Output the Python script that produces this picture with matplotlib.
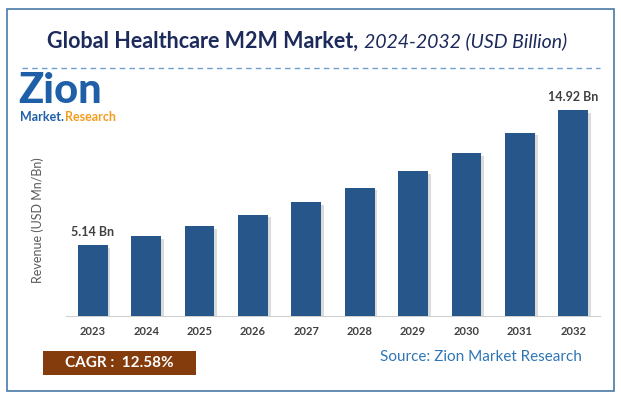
import matplotlib.pyplot as plt
import matplotlib.patheffects as pe
from matplotlib.patches import Rectangle

plt.rcParams['font.family'] = ['Lato', 'DejaVu Sans']

years = ['2023', '2024', '2025', '2026', '2027', '2028', '2029', '2030', '2031', '2032']
revenue = [5.14, 5.79, 6.52, 7.34, 8.26, 9.30, 10.47, 11.78, 13.27, 14.92]
first_label = '5.14 Bn'
last_label = '14.92 Bn'
cagr = 'CAGR :  12.58%'

W, H = 621, 397
fig = plt.figure(figsize=(W / 100, H / 100), dpi=100)


def fx(px):
    return px / W


def fy(py):
    return 1 - py / H


# outer frame
fig.patches.append(Rectangle((fx(7), fy(391)), fx(607), (391 - 9) / H, transform=fig.transFigure,
                             fill=False, edgecolor='#4a7aa8', linewidth=1.2))

# title (bold part + italic part)
title_color = '#1c2a5c'
t1 = fig.text(fx(47), fy(41), 'Global Healthcare M2M Market,', fontsize=15.5, fontweight='bold',
              color=title_color, va='center', ha='left')
fig.canvas.draw()
bb = t1.get_window_extent()
fig.text((bb.x1 + 6) / W, fy(41), '2024-2032 (USD Billion)', fontsize=14, fontstyle='italic',
         color=title_color, va='center', ha='left')

# dashed separator
fig.add_artist(plt.Line2D([fx(22), fx(600)], [fy(68), fy(68)], transform=fig.transFigure,
                          color='#6f9fcf', linewidth=1, linestyle=(0, (4, 3))))

# logo
fig.text(fx(18), fy(103), 'Zion', fontsize=30, fontweight='black', color='#1f5fa8',
         va='baseline', ha='left')
m1 = fig.text(fx(20), fy(117), 'Market.', fontsize=9, fontweight='bold', color='#1f5fa8',
              va='center', ha='left')
fig.canvas.draw()
mb = m1.get_window_extent()
fig.text((mb.x1 + 1) / W, fy(117), 'Research', fontsize=9, fontweight='bold', color='#f39c1f',
         va='center', ha='left')

# chart axes
ax = fig.add_axes([fx(66), fy(316), fx(600) - fx(66), (316 - 95) / H])
x = range(len(years))
bars = ax.bar(x, revenue, width=0.56, color='#27578a', zorder=3)
for b in bars:
    b.set_path_effects([pe.SimplePatchShadow(offset=(2, -2), shadow_rgbFace='#9a9a9a', alpha=0.35),
                        pe.Normal()])
ax.set_xlim(-0.5, 9.5)
ax.set_ylim(0, 16)
ax.set_xticks(list(x))
ax.set_xticklabels(years, fontsize=8, fontweight='bold', color='#404040')
ax.tick_params(axis='x', length=0, pad=7)
ax.set_yticks([])
for s in ['top', 'right', 'left']:
    ax.spines[s].set_visible(False)
ax.spines['bottom'].set_color('#d0d0d0')
ax.patch.set_alpha(0)

ax.text(0, revenue[0] + 0.5, first_label, ha='center', va='bottom', fontsize=9,
        fontweight='bold', color='#404040')
ax.text(9, revenue[-1] + 0.5, last_label, ha='center', va='bottom', fontsize=9,
        fontweight='bold', color='#404040')

fig.text(fx(38), fy(220), 'Revenue (USD Mn/Bn)', rotation=90, fontsize=9, color='#595959',
         va='center', ha='center')

# CAGR box
fig.patches.append(Rectangle((fx(43), fy(375)), fx(153), 24 / H, transform=fig.transFigure,
                             facecolor='#843c0c', edgecolor='none'))
fig.text(fx(119), fy(363), cagr, fontsize=11, fontweight='bold', color='white',
         va='center', ha='center')

fig.text(fx(582), fy(357), 'Source: Zion Market Research', fontsize=11, color='#2e75b6',
         va='center', ha='right')

plt.savefig('out.png', dpi=100)
